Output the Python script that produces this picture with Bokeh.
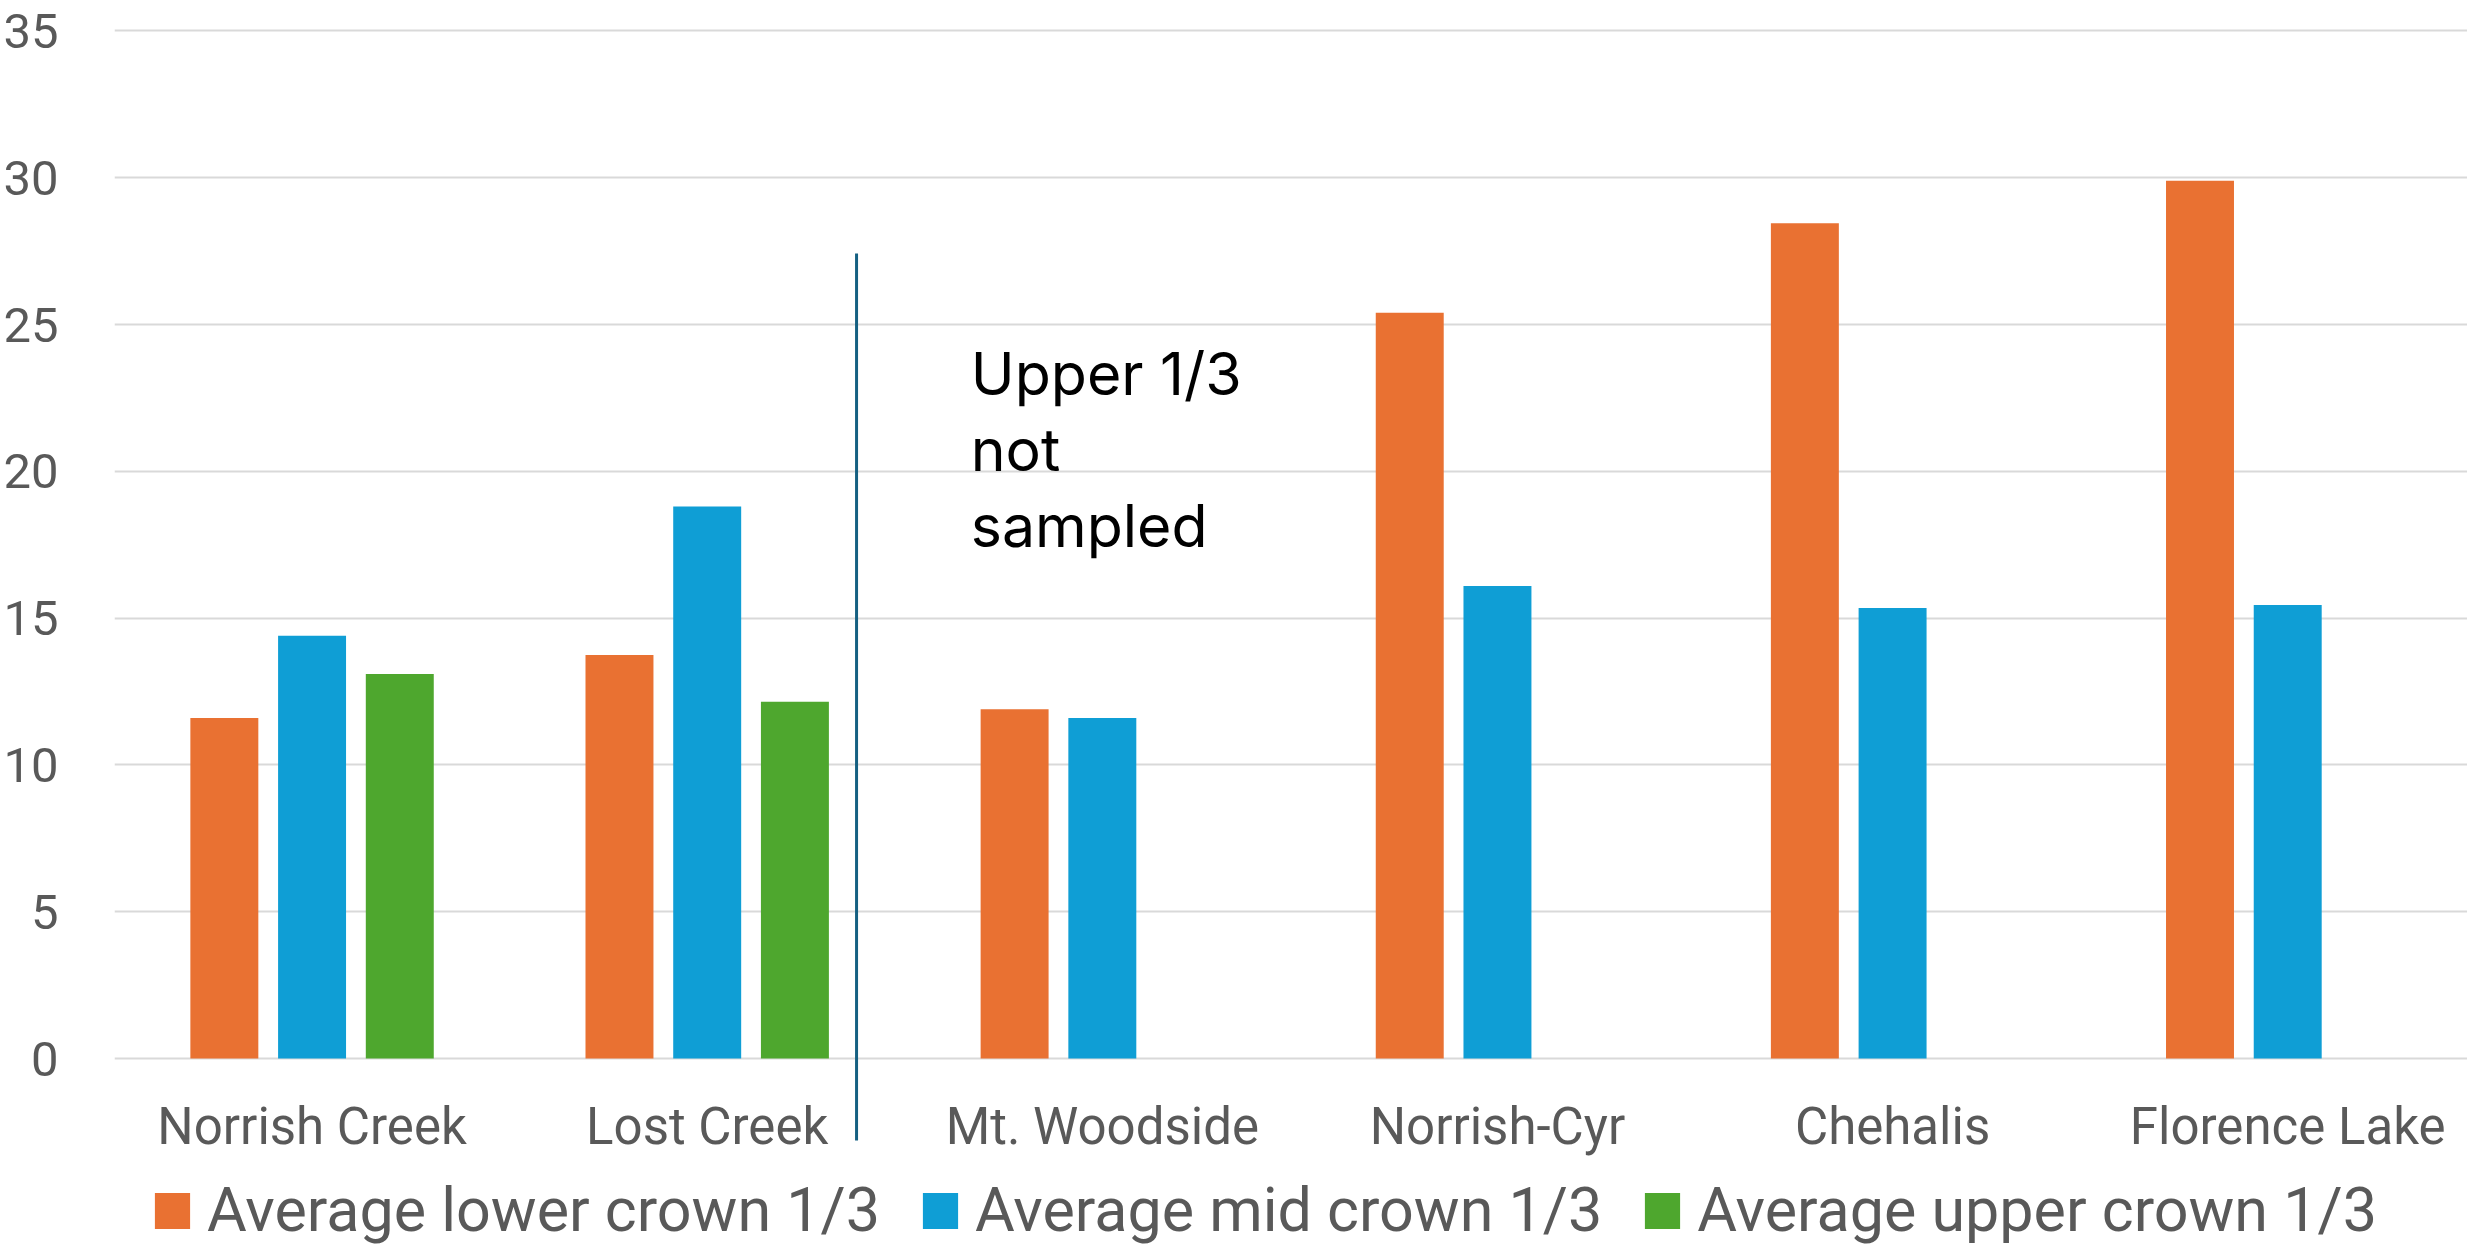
from bokeh.plotting import figure
from bokeh.models import Range1d, FixedTicker, ColumnDataSource, Legend, LegendItem
from bokeh.transform import dodge
from bokeh.core.properties import value
from bokeh.embed import file_html
from bokeh.resources import INLINE

# ---- data ----
sites = ["Norrish Creek", "Lost Creek", "Mt. Woodside", "Norrish-Cyr", "Chehalis", "Florence Lake"]
lower_crown = [11.6, 13.75, 11.9, 25.4, 28.45, 29.9]
mid_crown = [14.4, 18.8, 11.6, 16.1, 15.35, 15.45]
upper_crown = [13.1, 12.15, None, None, None, None]
series_names = ["Average lower crown 1/3", "Average mid crown 1/3", "Average upper crown 1/3"]
y_ticks = [0, 5, 10, 15, 20, 25, 30, 35]
note_lines = ["Upper 1/3", "not", "sampled"]
divider_after = "Lost Creek"
note_site = "Mt. Woodside"

COL_LOWER = "#E97132"
COL_MID = "#0F9ED5"
COL_UPPER = "#4EA72E"
TXT = "#595959"
AX_FONT = "Roboto"

# category slot centres (one unit per site)
xpos = [i + 0.5 for i in range(len(sites))]

p = figure(
    width=2467, height=1246,
    x_range=Range1d(0, 5.955),
    y_range=Range1d(-6.40, 35.22),
    x_axis_location=None,
    output_backend="svg", toolbar_location=None,
    min_border_left=106, min_border_right=0, min_border_top=24, min_border_bottom=0,
)
p.outline_line_color = None
p.xgrid.visible = False
p.ygrid.ticker = FixedTicker(ticks=y_ticks)
p.ygrid.grid_line_color = "#D9D9D9"
p.ygrid.grid_line_width = 2

yax = p.yaxis[0]
yax.ticker = FixedTicker(ticks=y_ticks)
yax.axis_line_color = None
yax.major_tick_line_color = None
yax.minor_tick_line_color = None
yax.major_label_standoff = 50
yax.major_label_text_font = AX_FONT
yax.major_label_text_font_size = "49px"
yax.major_label_text_color = TXT

src = ColumnDataSource(dict(x=xpos, site=sites, lower=lower_crown, mid=mid_crown))
up_x = [x for x, v in zip(xpos, upper_crown) if v is not None]
up_vals = [v for v in upper_crown if v is not None]
src_up = ColumnDataSource(dict(x=up_x, upper=up_vals))

OFF = 0.222
W = 0.172
r1 = p.vbar(x=dodge("x", -OFF), top="lower", width=W, bottom=0,
            source=src, fill_color=COL_LOWER, line_color=None)
r2 = p.vbar(x=dodge("x", 0.0), top="mid", width=W, bottom=0,
            source=src, fill_color=COL_MID, line_color=None)
r3 = p.vbar(x=dodge("x", OFF), top="upper", width=W, bottom=0,
            source=src_up, fill_color=COL_UPPER, line_color=None)

# category labels (inside the frame so the divider can reach below them)
p.text(x="x", y=-2.31, text="site", source=src,
       text_font=value(AX_FONT), text_font_size="51px", text_color=TXT,
       text_align="center", text_baseline="alphabetic")

# divider line
div_x = xpos[sites.index(divider_after)]
src_div = ColumnDataSource(dict(x=[div_x]))
p.segment(x0=dodge("x", 0.378), x1=dodge("x", 0.378),
          y0=-2.79, y1=27.42, source=src_div, line_color="#156082", line_width=3)

# note
nx = xpos[sites.index(note_site)]
src_note = ColumnDataSource(dict(x=[nx] * 3, txt=note_lines, y=[23.35, 20.76, 18.17]))
p.text(x=dodge("x", -0.333), y="y", text="txt", source=src_note,
       text_font=value("Inter"), text_font_size="59px", text_color="#000000",
       text_align="left", text_baseline="alphabetic")

legend = Legend(
    items=[LegendItem(label=series_names[0], renderers=[r1]),
           LegendItem(label=series_names[1], renderers=[r2]),
           LegendItem(label=series_names[2], renderers=[r3])],
    orientation="horizontal", location=(36, 0),
    glyph_width=44, glyph_height=45, label_standoff=13, spacing=38,
    padding=0, margin=0, border_line_color=None, background_fill_alpha=0,
    label_text_font=AX_FONT, label_text_font_size="61px", label_text_color=TXT,
    label_height=45,
)
p.add_layout(legend)

open("out.html", "w").write(file_html(p, INLINE))
